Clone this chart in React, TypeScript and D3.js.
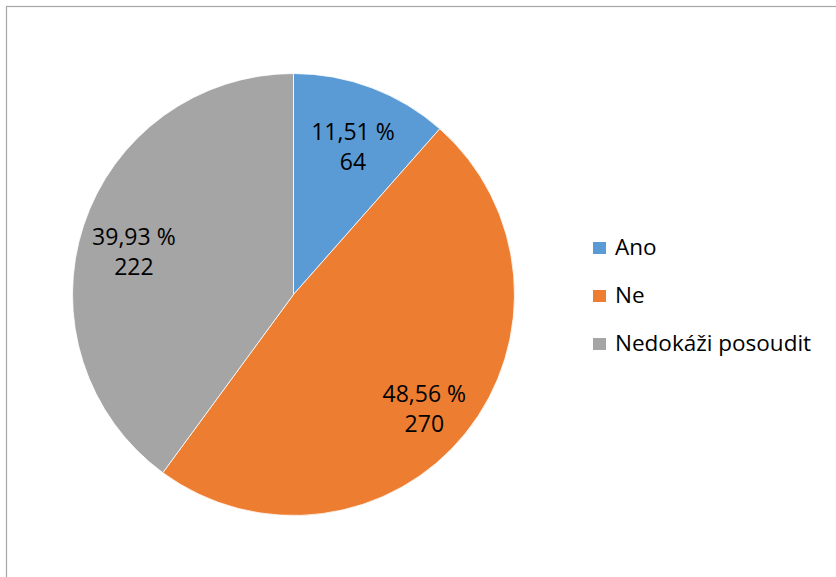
import React from "react";
import * as d3 from "d3";

const categories = ["Ano", "Ne", "Nedokáži posoudit"];
const counts = [64, 270, 222];
const colors = ["#5b9bd5", "#ed7d31", "#a5a5a5"];

const W = 836;
const H = 577;
const cx = 293.5;
const cy = 294.5;
const R = 221;
const FONT = "'Open Sans', 'Noto Sans', sans-serif";

export default function App() {
  const total = d3.sum(counts);
  const pie = d3
    .pie<number>()
    .sort(null)
    .value((d) => d)
    .startAngle(0)
    .endAngle(2 * Math.PI);
  const arcs = pie(counts);
  const arcGen = d3.arc<d3.PieArcDatum<number>>().innerRadius(0).outerRadius(R);
  const labelR = R * 0.76;

  return (
    <svg
      width={W}
      height={H}
      style={{ position: "absolute", left: 0, top: 0, background: "#fff" }}
    >
      <rect x={6.5} y={6.5} width={W + 10} height={H + 10} fill="#fff" stroke="#a6a6a6" strokeWidth={1.2} />
      <g transform={`translate(${cx},${cy})`}>
        {arcs.map((a, i) => (
          <path key={i} d={arcGen(a) || ""} fill={colors[i]} stroke="#fff" strokeWidth={0.8} />
        ))}
        {arcs.map((a, i) => {
          const mid = (a.startAngle + a.endAngle) / 2;
          const x = labelR * Math.sin(mid);
          const y = -labelR * Math.cos(mid) + 10;
          const pct = ((counts[i] / total) * 100).toFixed(2).replace(".", ",") + " %";
          return (
            <text key={"l" + i} textAnchor="middle" fontFamily={FONT} fontSize={23} fill="#000">
              <tspan x={x} y={y - 7.5}>{pct}</tspan>
              <tspan x={x} y={y + 22.5}>{counts[i]}</tspan>
            </text>
          );
        })}
      </g>
      <g>
        {categories.map((c, i) => (
          <g key={c} transform={`translate(593,${242 + i * 48})`}>
            <rect x={0} y={0} width={13} height={12} fill={colors[i]} />
            <text x={22} y={12.5} fontFamily={FONT} fontSize={22.5} fill="#000">
              {c}
            </text>
          </g>
        ))}
      </g>
    </svg>
  );
}
